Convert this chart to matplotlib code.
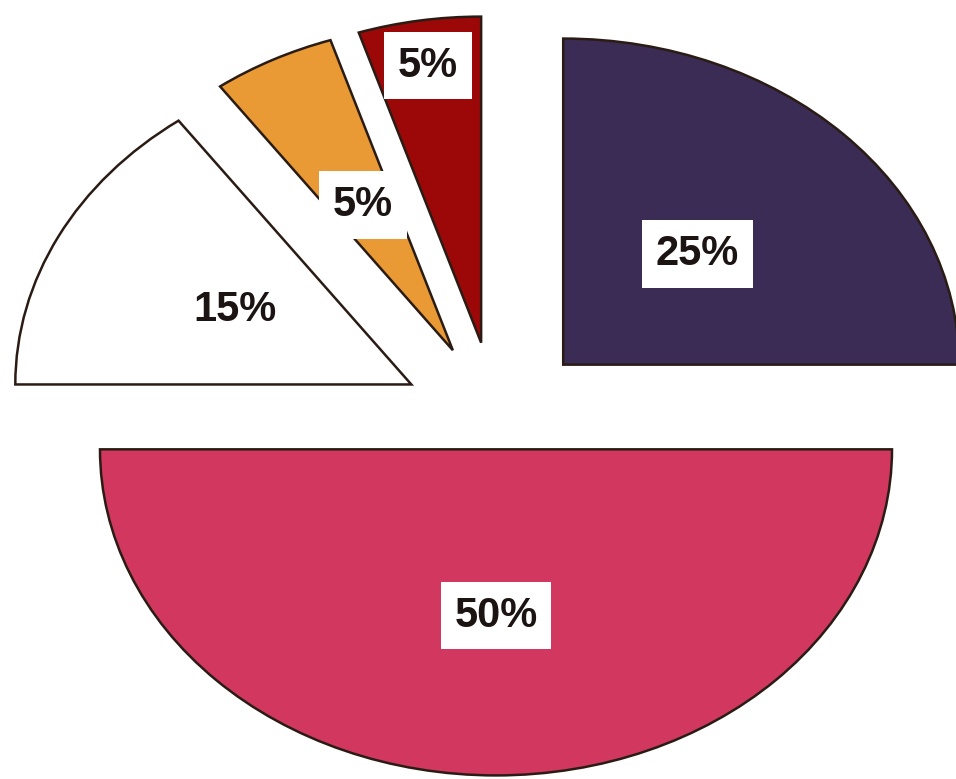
import matplotlib.pyplot as plt
import numpy as np

# slices, clockwise from 12 o'clock
shares = [25, 50, 15, 5, 5]
colors = ['#3b2c56', '#d2385f', '#ffffff', '#e99a35', '#9c0808']
explode = [0.24, 0.09, 0.24, 0.24, 0.24]
label_dist = [0.48, 0.51, 0.50, 0.50, 0.86]

fig = plt.figure(figsize=(9.56, 7.79), dpi=100)
ax = fig.add_axes([0, 0, 1, 1])

wedges, texts, autotexts = ax.pie(
    shares, colors=colors, explode=explode, startangle=90, counterclock=False,
    autopct=lambda p: '%d%%' % round(p),
    wedgeprops=dict(edgecolor='#2a1c14', linewidth=1.8),
    textprops=dict(fontsize=30, fontweight='bold', color='#1c1412',
                   family='Liberation Sans'))

# move the labels to where they sit in the original, add white boxes
for w, t, d in zip(wedges, autotexts, label_dist):
    th = np.deg2rad((w.theta1 + w.theta2) / 2)
    cx, cy = w.center
    t.set_position((cx + d * np.cos(th), cy + d * np.sin(th)))
    t.set_bbox(dict(boxstyle='square,pad=0.33', facecolor='white', edgecolor='none'))
    t.set_zorder(5)

# squash the pie into the flattened ellipse of the original
ax.set_aspect('auto')
ax.set_xlim(-1.2525, 1.1616)
ax.set_ylim(-1.101, 1.288)
ax.axis('off')

fig.savefig('out.png', dpi=100, facecolor='white')
